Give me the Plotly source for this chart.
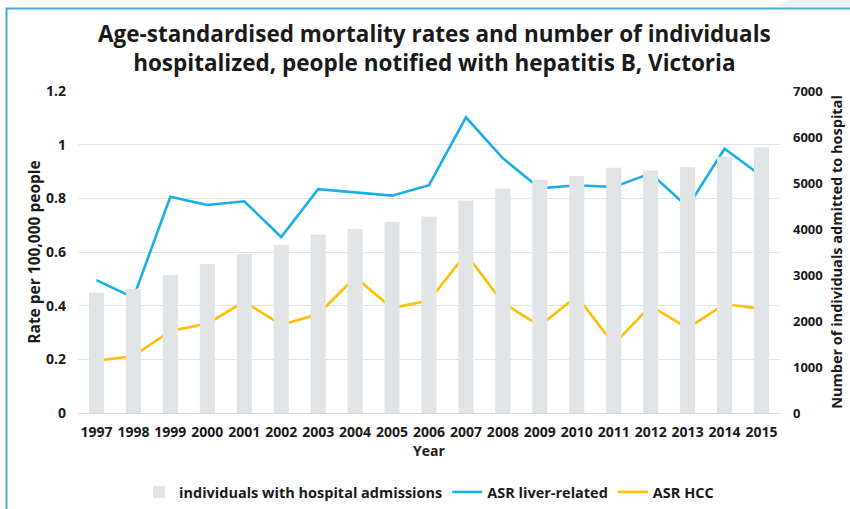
import plotly.graph_objects as go

# Data
years = [str(y) for y in range(1997, 2016)]
hospital_admissions = [2620, 2700, 3000, 3240, 3450, 3650, 3880, 4000, 4160, 4270,
                       4620, 4880, 5070, 5150, 5330, 5270, 5350, 5570, 5770]
asr_liver = [0.495, 0.43, 0.806, 0.775, 0.789, 0.656, 0.834, 0.821, 0.81, 0.849,
             1.102, 0.949, 0.837, 0.849, 0.842, 0.893, 0.768, 0.985, 0.883]
asr_hcc = [0.195, 0.212, 0.306, 0.333, 0.415, 0.329, 0.368, 0.506, 0.391, 0.419,
           0.593, 0.411, 0.325, 0.436, 0.256, 0.399, 0.316, 0.406, 0.388]

FONT = "Open Sans"
TXT = "#1a1a1a"

W, H = 850, 509
L, R, T, B = 78, 70, 91, 96
PW, PH = W - L - R, H - T - B


def px_to_paper(x, y):
    """Convert page pixel coordinates into paper coordinates."""
    return (x - L) / PW, (H - B - y) / PH


fig = go.Figure()
fig.add_trace(go.Bar(
    x=years, y=hospital_admissions, name="individuals with hospital admissions",
    marker=dict(color="#e1e4e7", line=dict(width=0)), yaxis="y2",
))
fig.add_trace(go.Scatter(
    x=years, y=asr_liver, name="ASR liver-related", mode="lines",
    line=dict(color="#1aaee6", width=2.6),
))
fig.add_trace(go.Scatter(
    x=years, y=asr_hcc, name="ASR HCC", mode="lines",
    line=dict(color="#ffbf00", width=2.6),
))

fx0, fy0 = px_to_paper(6.5, 8.5)
fx1, fy1 = px_to_paper(W + 5, H + 5)
gx0, gy_top = px_to_paper(790, 0)
gx1, gy_bot = px_to_paper(W, 7.5)
gx2, _ = px_to_paper(772, 7.5)

fig.update_layout(
    template="none",
    width=W, height=H,
    margin=dict(l=L, r=R, t=T, b=B, autoexpand=False),
    paper_bgcolor="white", plot_bgcolor="white",
    font=dict(family=FONT, color=TXT, size=13),
    bargap=0.59,
    title=dict(
        text="Age-standardised mortality rates and number of individuals<br>"
             "hospitalized, people notified with hepatitis B, Victoria",
        x=0.511, xanchor="center", y=1 - 42 / H, yanchor="middle",
        yref="container", xref="container",
        font=dict(family=FONT, size=22.5, color=TXT, weight=700),
    ),
    xaxis=dict(
        type="category", showgrid=False, showline=True, linecolor="#d9d9d9",
        linewidth=1, ticks="", ticklabelstandoff=6, automargin=False,
        tickfont=dict(family=FONT, size=14, weight=700),
        title=dict(text="Year", standoff=6,
                   font=dict(family=FONT, size=14, weight=700)),
    ),
    yaxis=dict(
        range=[0, 1.2], dtick=0.2, showgrid=True, gridcolor="#e3e3e3",
        gridwidth=1, zeroline=False, ticks="", ticklabelstandoff=11,
        automargin=False, showline=False,
        tickfont=dict(family=FONT, size=14, weight=700),
        title=dict(text="Rate per 100,000 people", standoff=1,
                   font=dict(family=FONT, size=15.5, weight=700)),
    ),
    yaxis2=dict(
        range=[0, 7000], dtick=1000, tickformat="d", overlaying="y",
        side="right", showgrid=False, zeroline=False, ticks="",
        ticklabelstandoff=12, automargin=False, showline=False,
        tickfont=dict(family=FONT, size=13, weight=700),
        title=dict(text="Number of individuals admitted to hospital",
                   standoff=10,
                   font=dict(family=FONT, size=14.5, weight=700)),
    ),
    legend=dict(
        orientation="h", x=0.5, xanchor="center", y=-(492 - 413) / PH,
        yanchor="middle",
        font=dict(family=FONT, size=14.5, weight=700),
        itemwidth=30, traceorder="normal", bgcolor="rgba(0,0,0,0)",
    ),
    shapes=[
        # pale band across the top-right corner
        dict(type="path", xref="paper", yref="paper", layer="below",
             path=f"M {gx2} {gy_bot} L {gx0} {gy_top} L {gx1} {gy_top} "
                  f"L {gx1} {gy_bot} Z",
             fillcolor="#eef1f4", line=dict(width=0)),
        # frame around the chart
        dict(type="rect", xref="paper", yref="paper",
             x0=fx0, x1=fx1, y0=fy1, y1=fy0,
             line=dict(color="#4aa8dc", width=2), fillcolor="rgba(0,0,0,0)"),
    ],
)

fig.write_html("out.html")
